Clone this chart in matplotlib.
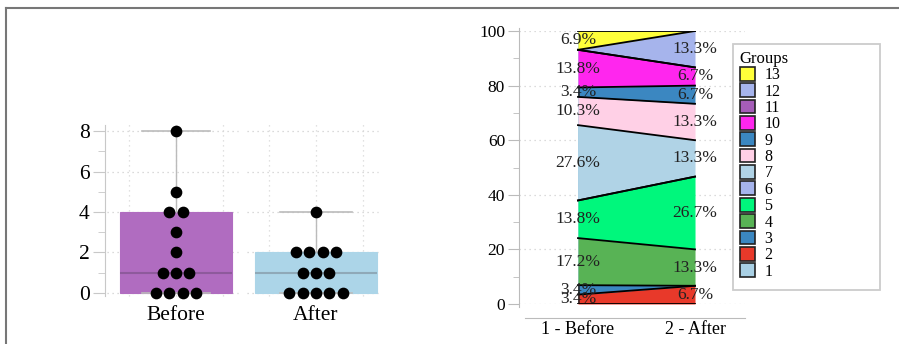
import matplotlib
matplotlib.use('Agg')
import matplotlib.pyplot as plt
import numpy as np
from matplotlib.patches import Patch, Rectangle
from matplotlib.lines import Line2D

# ---------------- data ----------------
groups = [str(i) for i in range(1, 14)]
before_counts = [0, 1, 1, 5, 4, 0, 8, 3, 1, 4, 0, 0, 2]
after_counts = [0, 1, 0, 2, 4, 0, 2, 2, 1, 1, 0, 2, 0]
box_labels = ['Before', 'After']
stage_labels = ['1 - Before', '2 - After']
group_colors = ['#a9d0e4', '#e8392a', '#3b87c1', '#58b355', '#00f77c', '#a6b4ec',
                '#b0d3e6', '#ffd0e6', '#3b87c1', '#ff26ee', '#a55db8', '#a6b4ec', '#ffff3a']
box_colors = ['#b06cc0', '#acd5e8']
median_colors = ['#8e5a9c', '#8fa9b8']

W, H = 899, 344
SERIF = ['Liberation Serif', 'DejaVu Serif']
plt.rcParams['font.family'] = SERIF

fig = plt.figure(figsize=(W / 100, H / 100), dpi=100)

# outer frame (top and left lines)
fig.add_artist(Line2D([6 / W, 1], [1 - 8 / H, 1 - 8 / H], color='#777777', lw=1.5))
fig.add_artist(Line2D([6 / W, 6 / W], [0, 1 - 8 / H], color='#777777', lw=1.5))

# ---------------- left: box + dot plot ----------------
ax1 = fig.add_axes([105 / W, 48 / H, 275 / W, 171 / H])
series = [before_counts, after_counts]
positions = [0, 1]
bp = ax1.boxplot(series, positions=positions, widths=[0.8, 0.87], whis=(0, 100),
                 patch_artist=True, showfliers=False, capwidths=[0.48, 0.51])
for i, b in enumerate(bp['boxes']):
    b.set_facecolor(box_colors[i])
    b.set_edgecolor(box_colors[i])
    b.set_linewidth(0.8)
    b.set_zorder(2)
for i, m in enumerate(bp['medians']):
    m.set_color(median_colors[i])
    m.set_linewidth(1.5)
    m.set_zorder(3)
for w in bp['whiskers']:
    w.set_color('#bbbbbb')
    w.set_linewidth(1)
for c in bp['caps']:
    c.set_color('#bbbbbb')
    c.set_linewidth(1.2)

# dot "swarm"
spacing = 0.095
for pos, vals in zip(positions, series):
    vals = np.array(vals)
    for v in np.unique(vals):
        n = int((vals == v).sum())
        xs = pos + (np.arange(n) - (n - 1) / 2) * spacing
        ax1.scatter(xs, [v] * n, s=55, color='black', zorder=5, clip_on=False)

ax1.set_xlim(-0.507, 1.457)
ax1.set_ylim(-0.15, 8.3)
# panel grids
for pos in positions:
    for yv in [0, 2, 4, 6, 8]:
        ax1.plot([pos - 0.49, pos + 0.44], [yv, yv], ls=(0, (1, 3)), color='#cfcfcf', lw=0.9, zorder=0)
    for dx in [-0.335, 0, 0.335]:
        ax1.plot([pos + dx, pos + dx], [-0.15, 8.4], ls=(0, (1, 3)), color='#d8d8d8', lw=0.9, zorder=0, clip_on=False)

ax1.set_xticks(positions)
ax1.set_xticklabels(box_labels)
ax1.set_yticks([0, 2, 4, 6, 8])
ax1.set_yticks([1, 3, 5, 7], minor=True)
ax1.tick_params(axis='y', which='major', length=9, color='#c8c8c8', labelsize=15.5, pad=2)
ax1.tick_params(axis='y', which='minor', length=5, color='#c8c8c8')
ax1.tick_params(axis='x', length=0, pad=7, labelsize=15.5)
for s in ['top', 'right', 'bottom']:
    ax1.spines[s].set_visible(False)
ax1.spines['left'].set_color('#c8c8c8')
ax1.spines['left'].set_bounds(-0.15, 8.3)

# ---------------- right: stacked proportions ----------------
ax2 = fig.add_axes([519 / W, 40 / H, 226 / W, 273 / H])
tb = sum(before_counts)
ta = sum(after_counts)
pb = np.array(before_counts) / tb * 100
pa = np.array(after_counts) / ta * 100
xs = [1, 2]
cb = np.concatenate([[0], np.cumsum(pb)])
ca = np.concatenate([[0], np.cumsum(pa)])
ax2.add_patch(Rectangle((1, 0), 1, 100, facecolor=group_colors[0], edgecolor='none', zorder=1))
for g in range(len(groups)):
    ax2.fill_between(xs, [cb[g], ca[g]], [cb[g + 1], ca[g + 1]], color=group_colors[g],
                     linewidth=0, zorder=2)
for g in range(1, len(groups) + 1):
    ax2.plot(xs, [cb[g], ca[g]], color='black', lw=1.3, zorder=3)
for g in range(len(groups)):
    if before_counts[g] > 0:
        ax2.text(1, (cb[g] + cb[g + 1]) / 2, '%.1f%%' % pb[g], ha='center', va='center',
                 fontsize=12.5, color='#222222', zorder=4)
    if after_counts[g] > 0:
        ax2.text(2, (ca[g] + ca[g + 1]) / 2, '%.1f%%' % pa[g], ha='center', va='center',
                 fontsize=12.5, color='#222222', zorder=4)

ax2.set_xlim(0.496, 2.427)
ax2.set_ylim(0, 100)
for yv in [0, 20, 40, 60, 80, 100]:
    ax2.axhline(yv, ls=(0, (1, 3)), color='#d0d0d0', lw=0.9, zorder=0)
ax2.set_yticks([0, 20, 40, 60, 80, 100])
ax2.set_yticks([10, 30, 50, 70, 90], minor=True)
ax2.set_xticks(xs)
ax2.set_xticklabels(stage_labels)
ax2.tick_params(axis='y', which='major', length=8, color='#bbbbbb', labelsize=12.5, pad=2)
ax2.tick_params(axis='y', which='minor', length=4, color='#bbbbbb')
ax2.tick_params(axis='x', which='major', length=0, pad=2, labelsize=13)
for s in ['top', 'right']:
    ax2.spines[s].set_visible(False)
ax2.spines['left'].set_color('#bbbbbb')
ax2.spines['left'].set_bounds(-1, 101)
ax2.spines['bottom'].set_color('#bbbbbb')
ax2.spines['bottom'].set_position(('outward', 10))
ax2.spines['bottom'].set_bounds(0.55, 2.427)

# legend frame drawn separately (wide box as in reference)
fig.add_artist(Rectangle((733 / W, 1 - 290 / H), 147 / W, 246 / H, transform=fig.transFigure,
                         facecolor='white', edgecolor='#cccccc', linewidth=1.3, zorder=5))
handles = [Patch(facecolor=group_colors[g], edgecolor='#222222', linewidth=1.2)
           for g in range(len(groups) - 1, -1, -1)]
labels = [groups[g] for g in range(len(groups) - 1, -1, -1)]
leg = fig.legend(handles, labels, title='Groups', loc='upper left',
                 bbox_to_anchor=(735 / W, 1 - 46 / H), fontsize=11.5, title_fontsize=12,
                 labelspacing=0.0, handlelength=0.95, handleheight=0.95, handletextpad=0.6,
                 borderpad=0.3, borderaxespad=0, fancybox=False, alignment='left',
                 frameon=False)
leg.set_zorder(6)

fig.savefig('out.png', dpi=100)
